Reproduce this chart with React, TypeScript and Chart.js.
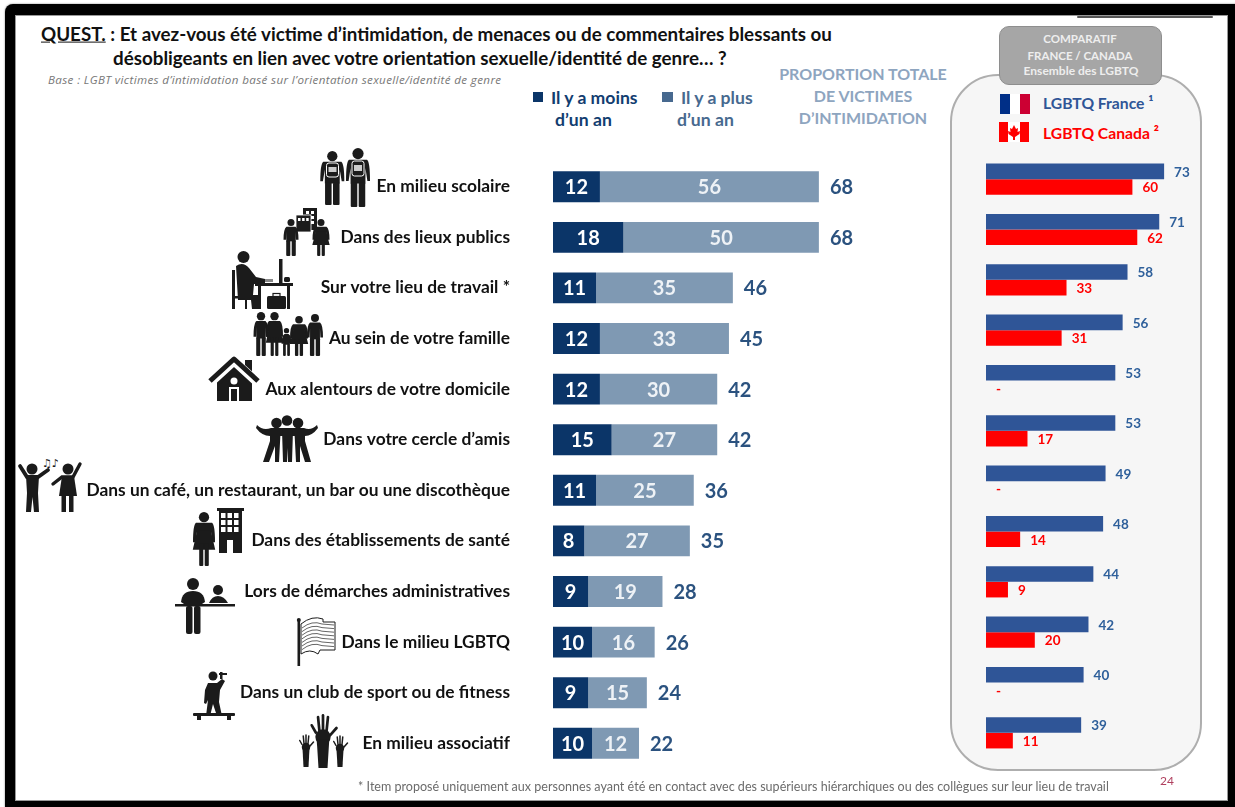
import React, { useEffect, useRef } from "react";
import { Chart, registerables } from "chart.js";

Chart.register(...registerables);

const categories = [
  "En milieu scolaire",
  "Dans des lieux publics",
  "Sur votre lieu de travail *",
  "Au sein de votre famille",
  "Aux alentours de votre domicile",
  "Dans votre cercle d’amis",
  "Dans un café, un restaurant, un bar ou une discothèque",
  "Dans des établissements de santé",
  "Lors de démarches administratives",
  "Dans le milieu LGBTQ",
  "Dans un club de sport ou de fitness",
  "En milieu associatif",
];
const lessThanYear = [12, 18, 11, 12, 12, 15, 11, 8, 9, 10, 9, 10];
const moreThanYear = [56, 50, 35, 33, 30, 27, 25, 27, 19, 16, 15, 12];
const totals = [68, 68, 46, 45, 42, 42, 36, 35, 28, 26, 24, 22];
const franceValues = [73, 71, 58, 56, 53, 53, 49, 48, 44, 42, 40, 39];
const canadaValues = [60, 62, 33, 31, null, 17, null, 14, 9, 20, null, 11];

const FONT = "Lato, sans-serif";
const DARK = "#0b3568";
const LIGHT = "#7f99b3";
const TOTAL = "#2b527f";
const FR = "#2f5597";
const CA = "#ff0000";
const INK = "#1b1b1b";

const stackedLabels = {
  id: "stackedLabels",
  afterDatasetsDraw(chart: any) {
    const { ctx } = chart;
    ctx.save();
    ctx.font = `bold 20px ${FONT}`;
    ctx.textBaseline = "middle";
    chart.data.datasets.forEach((ds: any, d: number) => {
      chart.getDatasetMeta(d).data.forEach((bar: any, i: number) => {
        const left = chart.scales.x.getPixelForValue(d === 0 ? 0 : lessThanYear[i]);
        ctx.fillStyle = d === 0 ? "#ffffff" : "#eef2f6";
        ctx.textAlign = "center";
        ctx.fillText(String(ds.data[i]), (left + bar.x) / 2, bar.y + 1);
        if (d === 1) {
          ctx.fillStyle = TOTAL;
          ctx.textAlign = "left";
          ctx.fillText(String(totals[i]), bar.x + 11, bar.y + 1);
        }
      });
    });
    ctx.restore();
  },
};

const groupedLabels = {
  id: "groupedLabels",
  afterDatasetsDraw(chart: any) {
    const { ctx } = chart;
    const zero = chart.scales.x.getPixelForValue(0);
    ctx.save();
    ctx.font = `bold 13.5px ${FONT}`;
    ctx.textBaseline = "middle";
    ctx.textAlign = "left";
    chart.data.datasets.forEach((ds: any, d: number) => {
      ctx.fillStyle = d === 0 ? "#2f609b" : CA;
      chart.getDatasetMeta(d).data.forEach((bar: any, i: number) => {
        const v = ds.data[i];
        const x = v == null ? zero : bar.x;
        ctx.fillText(v == null ? "-" : String(v), x + 10, bar.y + 1);
      });
    });
    ctx.restore();
  },
};

function T({ x, y, size, color, weight = 700, align = "left", italic = false, family = FONT, spacing = 0, children }: any) {
  const shift = align === "center" ? "-50%" : align === "right" ? "-100%" : "0";
  return (
    <div
      style={{
        position: "absolute",
        left: x,
        top: y,
        transform: `translate(${shift}, -50%)`,
        fontFamily: family,
        fontSize: size,
        fontWeight: weight,
        fontStyle: italic ? "italic" : "normal",
        letterSpacing: spacing,
        color,
        whiteSpace: "nowrap",
        lineHeight: 1,
      }}
    >
      {children}
    </div>
  );
}

// Standing pictogram: head, body with hanging arms, and two legs.
function Figure({ cx, top, h, w, dress = false }: any) {
  const a = w / 2;
  const r = h * 0.095;
  const sy = top + 2 * r + 0.6;
  const hand = top + h * 0.56;
  const hip = top + h * 0.6;
  const t = a * 0.62;
  const arms = `M${cx - a + 3} ${sy} L${cx + a - 3} ${sy} Q${cx + a} ${sy + 2} ${cx + a} ${hand} L${cx + a - 2.6} ${hand} L${cx + t} ${sy + h * 0.14} L${cx + t} ${hip} L${cx - t} ${hip} L${cx - t} ${sy + h * 0.14} L${cx - a + 2.6} ${hand} L${cx - a} ${hand} Q${cx - a} ${sy + 2} ${cx - a + 3} ${sy} Z`;
  const skirt = `M${cx - t} ${sy + h * 0.14} L${cx + t} ${sy + h * 0.14} L${cx + a * 1.02} ${hip + h * 0.1} L${cx - a * 1.02} ${hip + h * 0.1} Z`;
  const leg = dress ? t * 0.6 : t * 0.88;
  return (
    <g fill={INK}>
      <circle cx={cx} cy={top + r} r={r} />
      <path d={arms} />
      {dress && <path d={skirt} />}
      <rect x={cx - leg - 0.7} y={hip - 1} width={leg} height={top + h - hip + 1} rx={1} />
      <rect x={cx + 0.7} y={hip - 1} width={leg} height={top + h - hip + 1} rx={1} />
    </g>
  );
}

function Hand({ cx, cy, s, armTo }: any) {
  const fingers = [
    [-0.8, -0.5, -1.25, -1.3],
    [-0.4, -0.7, -0.55, -2.2],
    [0, -0.75, 0, -2.4],
    [0.4, -0.7, 0.55, -2.2],
    [0.8, -0.2, 1.5, -1.0],
  ];
  return (
    <g stroke={INK} strokeLinecap="round" fill={INK}>
      {fingers.map((f, i) => (
        <line
          key={i}
          x1={cx + f[0] * s}
          y1={cy + f[1] * s}
          x2={cx + f[2] * s}
          y2={cy + f[3] * s}
          strokeWidth={s * 0.3}
        />
      ))}
      <ellipse cx={cx} cy={cy} rx={s * 0.85} ry={s * 0.85} stroke="none" />
      <path d={`M${cx - s * 0.7} ${cy + s * 0.3} L${cx + s * 0.7} ${cy + s * 0.3} L${cx + s * 0.5} ${armTo} L${cx - s * 0.5} ${armTo} Z`} stroke="none" />
    </g>
  );
}

function Windows({ x, y, cols, rows, w, h, gap }: any) {
  const cells = [];
  for (let r = 0; r < rows; r++)
    for (let c = 0; c < cols; c++)
      cells.push(<rect key={`${r}-${c}`} x={x + c * (w + gap)} y={y + r * (h + gap)} width={w} height={h} fill="#fff" />);
  return <g>{cells}</g>;
}

// Row pictograms, placed beside their category labels.
function Pictograms() {
  return (
    <svg width={1235} height={807} style={{ position: "absolute", left: 0, top: 0 }}>
      {/* students */}
      <Figure cx={332.3} top={151} h={54} w={24} />
      <Figure cx={358} top={148} h={59} w={24} />
      <rect x={326.5} y={163} width={12} height={14} rx={2.5} fill={INK} stroke="#fff" />
      <rect x={328.5} y={167} width={8} height={5} fill="#ccc" />
      <rect x={352} y={161} width={12} height={15} rx={2.5} fill={INK} stroke="#fff" />
      <rect x={354} y={165} width={8} height={6} fill="#ccc" />
      {/* public places */}
      <rect x={303} y={208} width={14} height={22} fill={INK} />
      <Windows x={306} y={211} cols={2} rows={3} w={3} h={3} gap={2} />
      <rect x={296} y={215} width={15} height={17} fill={INK} stroke="#fff" strokeWidth={0.8} />
      <Windows x={298} y={218} cols={3} rows={1} w={2.5} h={3} gap={1.6} />
      <Figure cx={291} top={219} h={37} w={15} />
      <Figure cx={321} top={219} h={37} w={17} dress />
      {/* workplace */}
      <circle cx={243.5} cy={257} r={6} fill={INK} />
      <path d={`M236 266 Q243 261 249 268 L256 277 L265 279 L265 284 L254 284 L253 295 L258 295 L258 309 L252 309 L251 300 L238 300 Z`} fill={INK} />
      <rect x={232} y={270} width={3} height={39} fill={INK} />
      <rect x={232} y={296} width={15} height={2.5} fill={INK} />
      <rect x={245} y={298} width={2} height={11} fill={INK} />
      <rect x={255} y={283} width={38} height={3} fill={INK} />
      <rect x={258} y={286} width={3} height={23} fill={INK} />
      <rect x={287} y={286} width={3} height={23} fill={INK} />
      <rect x={279} y={259} width={3.5} height={24} fill={INK} />
      <rect x={267} y={296} width={19} height={13} rx={1.5} fill={INK} />
      <rect x={273} y={293.5} width={7} height={3} fill="none" stroke={INK} strokeWidth={1.2} />
      <rect x={265} y={279} width={8} height={3} fill="#888" />
      <rect x={284} y={277} width={6} height={5} rx={1.5} fill={INK} />
      {/* family */}
      <Figure cx={261} top={312} h={44} w={15} />
      <Figure cx={274.5} top={312} h={44} w={17} dress />
      <Figure cx={286.5} top={328} h={28} w={10} />
      <Figure cx={299} top={316} h={40} w={18} dress />
      <Figure cx={315} top={314} h={42} w={16} />
      {/* home */}
      <rect x={245} y={360} width={7} height={14} fill={INK} />
      <path d="M217 379 L234 364 L252 379 L252 401 L217 401 Z" fill={INK} />
      <path d="M211 382 L234 361 L257 382" fill="none" stroke="#fff" strokeWidth={9} />
      <path d="M210 381 L234 359 L258 381" fill="none" stroke={INK} strokeWidth={5} strokeLinejoin="round" />
      <path d="M219 385 L234 371 L250 385 L250 401 L219 401 Z" fill={INK} />
      <circle cx={234} cy={381} r={3.5} fill="#fff" />
      <rect x={229} y={387} width={10} height={14} fill="#fff" />
      <rect x={231} y={389} width={6} height={12} fill={INK} />
      {/* friends */}
      <g fill={INK}>
        <circle cx={276.5} cy={423} r={5.3} />
        <circle cx={287} cy={420.5} r={5.3} />
        <circle cx={298} cy={423} r={5.3} />
        <path d="M257 425 Q263 431 271 428 L304 428 Q311 431 317 425 L318 428 Q312 436 305 436 L270 436 Q262 436 256 428 Z" />
        <path d="M270 433 L280.5 433 L279 462 L275 462 L275 446 L269 462 L263 462 L270 441 Z" />
        <path d="M282 430 L293 430 L292 462 L288 462 L287.5 448 L287 462 L283 462 Z" />
        <path d="M294.5 433 L305 433 L305 441 L311 462 L305 462 L300 446 L300 462 L296 462 Z" />
      </g>
      {/* dancing */}
      <g fill={INK} stroke={INK}>
        <circle cx={32} cy={469} r={5.5} stroke="none" />
        <path d="M20 466 L27 477 L38 477 L48 470" fill="none" strokeWidth={3.8} strokeLinecap="round" />
        <path d="M26 476 L39 476 L38 493 L39 512 L34 512 L32.5 497 L31 512 L26 512 L27 493 Z" stroke="none" />
        <circle cx={68} cy={469} r={5.5} stroke="none" />
        <path d="M80 464 L73 477 L62 477 L53 484" fill="none" strokeWidth={3.4} strokeLinecap="round" />
        <path d="M62 476 L74 476 L77 496 L59 496 Z" stroke="none" />
        <rect x={61.5} y={495} width={4.5} height={17} stroke="none" />
        <rect x={69} y={495} width={4.5} height={17} stroke="none" />
      </g>
      <text x={42} y={467} fontSize={11} fill={INK} fontFamily="DejaVu Sans">♫♪</text>
      {/* health */}
      <Figure cx={204} top={512} h={54} w={22} dress />
      <rect x={217} y={508} width={27} height={3} fill={INK} />
      <rect x={219} y={510} width={23} height={43} fill={INK} />
      <Windows x={221} y={513} cols={3} rows={3} w={4.5} h={5} gap={2} />
      <rect x={227} y={540} width={6} height={13} fill="#fff" />
      {/* administration */}
      <circle cx={193} cy={584} r={6} fill={INK} />
      <path d="M181 602 Q182 591 193 591 Q204 591 205 602 L199 606 L187 606 Z" fill={INK} />
      <rect x={175} y={604} width={60} height={2.5} fill={INK} />
      <rect x={186} y={606} width={6.5} height={28} rx={2} fill={INK} />
      <rect x={194} y={606} width={6.5} height={28} rx={2} fill={INK} />
      <circle cx={218} cy={590} r={5} fill={INK} />
      <path d="M209 603 Q212 596 218 596 Q224 596 228 603 Z" fill={INK} />
      {/* rainbow flag */}
      <rect x={297.5} y={620} width={2.6} height={46} fill={INK} />
      <circle cx={298.8} cy={620} r={2} fill={INK} />
      <path d="M301 624 Q312 615 323 619 L323 622 L335 622 L335 650 L320 650 L318 654 Q310 648 301 654 Z" fill="#fff" stroke={INK} strokeWidth={1} />
      {[0, 1, 2, 3, 4, 5, 6].map((k) => (
        <path key={k} d={`M302 ${628 + k * 3.6} Q312 ${620 + k * 3.6} 322 ${624 + k * 3.6} L334 ${625 + k * 3.6}`} fill="none" stroke="#555" strokeWidth={0.9} />
      ))}
      {/* fitness */}
      <circle cx={213} cy={676} r={4.5} fill={INK} />
      <path d="M208 683 L217 683 L222 679 L225 681 L220 690 L219 702 L222 716 L217 716 L213 704 L210 716 L206 716 L208 700 L206 704 L204 703 L205 690 Z" fill={INK} />
      <rect x={220} y={672} width={2.5} height={7} fill={INK} />
      <rect x={219} y={673} width={8} height={2} fill={INK} />
      <rect x={193} y={713} width={42} height={3} rx={1} fill={INK} />
      <rect x={197} y={716} width={4} height={4} fill={INK} />
      <rect x={227} y={716} width={4} height={4} fill={INK} />
      {/* raised hands */}
      <Hand cx={306} cy={747} s={5} armTo={767} />
      <Hand cx={340} cy={748} s={5} armTo={767} />
      <Hand cx={323} cy={737} s={9} armTo={768} />
    </svg>
  );
}

function Flags() {
  return (
    <svg width={1235} height={807} style={{ position: "absolute", left: 0, top: 0 }}>
      <rect x={1000} y={94} width={10} height={20} fill="#002f87" />
      <rect x={1010} y={94} width={10} height={20} fill="#ffffff" />
      <rect x={1020} y={94} width={10} height={20} fill="#cc0033" />
      <rect x={999} y={122} width={30} height={20} fill="#ffffff" />
      <rect x={999} y={122} width={9} height={20} fill="#ff0000" />
      <rect x={1020} y={122} width={9} height={20} fill="#ff0000" />
      <path d="M1014 125 L1016 129 L1018 128 L1017.5 132 L1020 131 L1019.5 134 L1015 137 L1015 140 L1013 140 L1013 137 L1008.5 134 L1008 131 L1010.5 132 L1010 128 L1012 129 Z" fill="#ff0000" />
    </svg>
  );
}

function useChart(ref: any, build: () => any) {
  useEffect(() => {
    const chart = new Chart(ref.current, build());
    return () => chart.destroy();
  }, []);
}

export default function App() {
  const mainRef = useRef<HTMLCanvasElement>(null);
  const sideRef = useRef<HTMLCanvasElement>(null);

  useChart(mainRef, () => ({
    type: "bar",
    data: {
      labels: categories,
      datasets: [
        { label: "Il y a moins d’un an", data: lessThanYear, backgroundColor: DARK, stack: "a" },
        { label: "Il y a plus d’un an", data: moreThanYear, backgroundColor: LIGHT, stack: "a" },
      ],
    },
    options: {
      indexAxis: "y",
      animation: false,
      responsive: false,
      layout: { padding: 0, autoPadding: false },
      categoryPercentage: 0.61,
      barPercentage: 1,
      plugins: { legend: { display: false }, tooltip: { enabled: false } },
      scales: {
        x: { display: false, stacked: true, min: 0, max: 100 },
        y: {
          stacked: true,
          afterFit: (s: any) => {
            s.width = 553;
          },
          // Invisible tick marks hold the labels away from the bars.
          grid: { drawOnChartArea: false, drawTicks: true, tickLength: 43, color: "transparent" },
          border: { display: false },
          ticks: {
            autoSkip: false,
            padding: 0,
            color: "#111111",
            font: { family: FONT, weight: "bold", size: 17.35 },
          },
        },
      },
    },
    plugins: [stackedLabels],
  }));

  useChart(sideRef, () => ({
    type: "bar",
    data: {
      labels: categories,
      datasets: [
        { label: "LGBTQ France", data: franceValues, backgroundColor: FR },
        { label: "LGBTQ Canada", data: canadaValues, backgroundColor: CA },
      ],
    },
    options: {
      indexAxis: "y",
      animation: false,
      responsive: false,
      layout: { padding: 0 },
      categoryPercentage: 0.62,
      barPercentage: 1,
      plugins: { legend: { display: false }, tooltip: { enabled: false } },
      scales: {
        x: { display: false, min: 0, max: 100 },
        y: { display: false },
      },
    },
    plugins: [groupedLabels],
  }));

  return (
    <div style={{ position: "fixed", left: 0, top: 0, width: 1235, height: 807, overflow: "hidden", background: "#fff" }}>
      <div style={{ position: "absolute", left: 5, top: 4, width: 1240, height: 810, background: "#000", borderRadius: 8, boxShadow: "0 0 2px #777" }} />
      <div style={{ position: "absolute", left: 16, top: 16, width: 1211, height: 784, background: "#fff", outline: "1px solid #999" }} />
      <div style={{ position: "absolute", left: 1077, top: 16, width: 136, height: 2, background: "#555", borderRadius: 2 }} />

      <div style={{ position: "absolute", left: 950, top: 74, width: 248, height: 693, background: "#f6f6f6", border: "2px solid #aeaeae", borderRadius: 48 }} />
      <div style={{ position: "absolute", left: 999, top: 26, width: 161, height: 57, background: "#a6a6a6", border: "1px solid #8e8e8e", borderRadius: 10 }} />

      <T x={41} y={34} size={18.8} color="#111">
        <span style={{ textDecoration: "underline" }}>QUEST.</span> : Et avez-vous été victime d’intimidation, de menaces ou de commentaires blessants ou
      </T>
      <T x={113} y={58} size={18.8} color="#111">désobligeants en lien avec votre orientation sexuelle/identité de genre… ?</T>
      <T x={48} y={80} size={11.6} spacing={0.37} color="#777" weight={400} italic family="'Open Sans', sans-serif">Base : LGBT victimes d’intimidation basé sur l’orientation sexuelle/identité de genre</T>

      <div style={{ position: "absolute", left: 533, top: 92, width: 10, height: 10, background: DARK }} />
      <T x={551} y={98} size={17.6} color={"#123d70"}>Il y a moins</T>
      <T x={555} y={120} size={17.6} color={"#123d70"}>d’un an</T>
      <div style={{ position: "absolute", left: 662, top: 92, width: 11, height: 10, background: "#47698f" }} />
      <T x={681} y={98} size={17.6} color="#47698f">Il y a plus</T>
      <T x={677} y={120} size={17.6} color="#47698f">d’un an</T>
      <T x={863} y={74} size={16} color="#8ea5bf" align="center">PROPORTION TOTALE</T>
      <T x={863} y={96} size={16} color="#8ea5bf" align="center">DE VICTIMES</T>
      <T x={863} y={118} size={16} color="#8ea5bf" align="center">D’INTIMIDATION</T>

      <T x={1080} y={39} size={11.5} color="#eeeeee" align="center">COMPARATIF</T>
      <T x={1080} y={56} size={11.5} color="#eeeeee" align="center">FRANCE / CANADA</T>
      <T x={1081} y={71} size={12} color="#eeeeee" align="center">Ensemble des LGBTQ</T>
      <Flags />
      <T x={1043} y={104} size={15.7} color={FR}>LGBTQ France ¹</T>
      <T x={1043} y={134} size={15.7} color={CA}>LGBTQ Canada ²</T>

      <Pictograms />

      <canvas ref={mainRef} width={944} height={628} style={{ position: "absolute", left: 0, top: 151 }} />
      <canvas ref={sideRef} width={244} height={604} style={{ position: "absolute", left: 986, top: 154 }} />

      <T x={358} y={787} size={12.55} color="#6b6b6b" weight={400}>* Item proposé uniquement aux personnes ayant été en contact avec des supérieurs hiérarchiques ou des collègues sur leur lieu de travail</T>
      <T x={1167} y={781} size={12} color="#b0405f" weight={400} align="center">24</T>
    </div>
  );
}
